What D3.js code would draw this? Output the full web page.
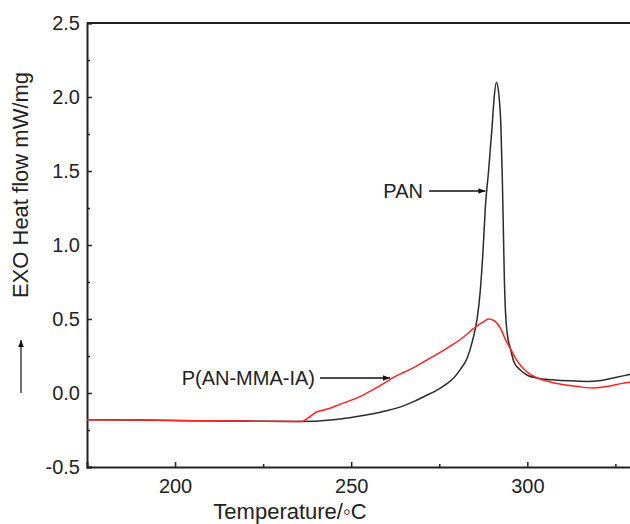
<!DOCTYPE html>
<html>
<head>
<meta charset="utf-8">
<script src="https://d3js.org/d3.v7.min.js"></script>
<style>
    body { margin: 0; background: #fff; }
    text { font-family: Arial, "Liberation Sans", sans-serif; fill: #222; }
</style>
</head>
<body>
<div id="dsc_plot"></div>
<script>
// PAN curve (temperature in C, heat flow in mW/mg)
var panTemp = [175, 190, 205, 220, 235, 245, 250, 255, 260, 265, 268, 271, 274, 277, 279, 281, 283, 284.3,
    285.2, 285.8, 286.6, 287.4, 288.1, 289, 290, 290.6, 291.2, 291.9, 292.5, 292.9, 293.2, 293.5, 293.8,
    294.3, 295.2, 296.2, 298, 300, 303, 307, 312, 317, 321, 325, 330];
var panFlow = [-0.18, -0.183, -0.187, -0.19, -0.193, -0.18, -0.165, -0.145, -0.12, -0.085, -0.055, -0.02, 0.015, 0.06, 0.1, 0.16, 0.24, 0.34,
    0.43, 0.51, 0.68, 0.95, 1.26, 1.5, 1.8, 2.0, 2.1, 2.02, 1.8, 1.45, 1.1, 0.75, 0.55,
    0.4, 0.3, 0.21, 0.155, 0.12, 0.1, 0.09, 0.082, 0.078, 0.085, 0.105, 0.13];

// P(AN-MMA-IA) curve
var copoTemp = [175, 190, 205, 220, 236, 238, 240, 243, 247, 252, 256, 260, 262, 265, 268, 272, 276, 279, 282, 285,
    287.5, 289, 290.5, 292.3, 294, 295.2, 297, 300, 303, 306.5, 312, 316, 319, 323, 327, 330];
var copoFlow = [-0.18, -0.183, -0.187, -0.19, -0.193, -0.165, -0.13, -0.11, -0.075, -0.03, 0.02, 0.075, 0.105, 0.14, 0.175, 0.23, 0.285, 0.33, 0.38, 0.44,
    0.48, 0.5, 0.49, 0.44, 0.35, 0.3, 0.22, 0.14, 0.1, 0.075, 0.05, 0.038, 0.034, 0.045, 0.065, 0.075];

// ticks
var xMajor = [200, 250, 300];
var xMinor = [225, 275, 325];
var yMajor = [-0.5, 0.0, 0.5, 1.0, 1.5, 2.0, 2.5];
var yMinor = [-0.25, 0.25, 0.75, 1.25, 1.75, 2.25];

var W = 630, H = 524;
var plotLeft = 87, plotRight = 633, plotTop = 23, plotBottom = 467;

var svg = d3.select("#dsc_plot")
    .append("svg")
    .attr("width", W)
    .attr("height", H);

var defs = svg.append("defs");
defs.append("marker")
    .attr("id", "arrow")
    .attr("viewBox", "0 0 10 10")
    .attr("refX", 10).attr("refY", 5)
    .attr("markerWidth", 10).attr("markerHeight", 7)
    .attr("markerUnits", "userSpaceOnUse")
    .attr("orient", "auto")
    .append("path")
    .attr("d", "M0,1 L10,5 L0,9 Z")
    .attr("fill", "#111");
defs.append("clipPath").attr("id", "plotclip")
    .append("rect")
    .attr("x", plotLeft).attr("y", plotTop)
    .attr("width", plotRight - plotLeft).attr("height", plotBottom - plotTop);

var x = d3.scaleLinear().domain([175, 330]).range([plotLeft, plotRight]);
var y = d3.scaleLinear().domain([-0.5, 2.5]).range([plotBottom, plotTop]);

// X axis, ticks inward
svg.append("g")
    .attr("transform", "translate(0," + plotBottom + ")")
    .call(d3.axisBottom(x).tickValues(xMajor).tickSize(-5).tickPadding(12).tickFormat(d3.format("d")));
svg.append("g")
    .attr("transform", "translate(0," + plotBottom + ")")
    .call(d3.axisBottom(x).tickValues(xMinor).tickSize(-3).tickFormat(""))
    .select(".domain").remove();

// Y axis (plain hyphen for the minus sign, like the original)
svg.append("g")
    .attr("transform", "translate(" + plotLeft + ",0)")
    .call(d3.axisLeft(y).tickValues(yMajor).tickSize(-5).tickPadding(7)
        .tickFormat(function (d) { return d.toFixed(1); }));
svg.append("g")
    .attr("transform", "translate(" + plotLeft + ",0)")
    .call(d3.axisLeft(y).tickValues(yMinor).tickSize(-3).tickFormat(""))
    .select(".domain").remove();

svg.selectAll(".domain").attr("stroke", "#222").attr("stroke-width", 2);
svg.selectAll(".tick line").attr("stroke", "#222").attr("stroke-width", 1.5);
svg.selectAll(".tick text").style("font-size", "20px").attr("fill", "#222");

// top frame line
svg.append("line")
    .attr("x1", plotLeft).attr("x2", plotRight)
    .attr("y1", plotTop).attr("y2", plotTop)
    .attr("stroke", "#222").attr("stroke-width", 2);

// curves
var line = d3.line()
    .x(function (d) { return x(d[0]); })
    .y(function (d) { return y(d[1]); })
    .curve(d3.curveMonotoneX);

var plot = svg.append("g").attr("clip-path", "url(#plotclip)");
plot.append("path")
    .datum(panTemp.map(function (t, i) { return [t, panFlow[i]]; }))
    .attr("d", line)
    .attr("fill", "none")
    .attr("stroke", "#2b2b2b")
    .attr("stroke-width", 1.5);
plot.append("path")
    .datum(copoTemp.map(function (t, i) { return [t, copoFlow[i]]; }))
    .attr("d", line)
    .attr("fill", "none")
    .attr("stroke", "#ff2020")
    .attr("stroke-width", 1.5);

// annotations
svg.append("text")
    .attr("x", 423).attr("y", 198)
    .attr("text-anchor", "end")
    .style("font-size", "20px")
    .text("PAN");
svg.append("line")
    .attr("x1", 429).attr("x2", x(288.1))
    .attr("y1", 191).attr("y2", 191)
    .attr("stroke", "#111").attr("stroke-width", 1.3)
    .attr("marker-end", "url(#arrow)");

svg.append("text")
    .attr("x", 315).attr("y", 385)
    .attr("text-anchor", "end")
    .style("font-size", "20px")
    .text("P(AN-MMA-IA)");
svg.append("line")
    .attr("x1", 320).attr("x2", 390)
    .attr("y1", 378).attr("y2", 378)
    .attr("stroke", "#111").attr("stroke-width", 1.3)
    .attr("marker-end", "url(#arrow)");

// axis titles
svg.append("text")
    .attr("x", 290).attr("y", 519)
    .attr("text-anchor", "middle")
    .style("font-size", "22px")
    .text("Temperature/\u25E6C");

svg.append("text")
    .attr("transform", "rotate(-90)")
    .attr("x", -185).attr("y", 28)
    .attr("text-anchor", "middle")
    .style("font-size", "22px")
    .text("EXO Heat flow mW/mg");

// exo arrow
svg.append("line")
    .attr("x1", 21).attr("x2", 21)
    .attr("y1", 393).attr("y2", 340)
    .attr("stroke", "#222").attr("stroke-width", 1.3)
    .attr("marker-end", "url(#arrow)");
</script>
</body>
</html>
